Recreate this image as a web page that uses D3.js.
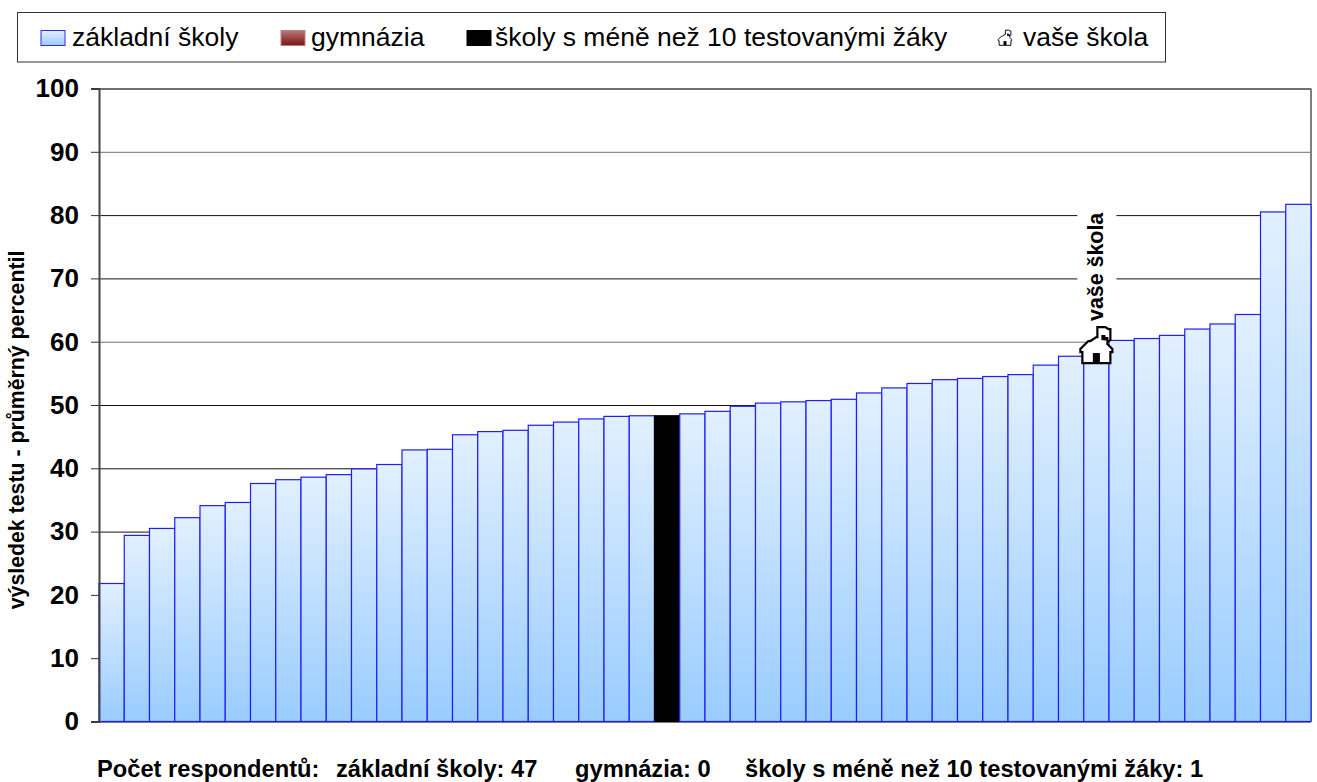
<!DOCTYPE html>
<html>
<head>
<meta charset="utf-8">
<script src="https://d3js.org/d3.v7.min.js"></script>
<style>
  html, body { margin: 0; padding: 0; background: #fff; }
  svg { display: block; }
  text { font-family: "Liberation Sans", Arial, sans-serif; fill: #000; }
  .ticks text { font-size: 26px; font-weight: bold; }
</style>
</head>
<body>
<script>
// one value per school, ascending
var schoolValues = [21.8, 29.4, 30.5, 32.2, 34.1, 34.6, 37.6, 38.2, 38.6, 39, 39.9, 40.6,
  42.9, 43, 45.3, 45.8, 46, 46.8, 47.3, 47.8, 48.2, 48.3, 48.3, 48.6, 49, 49.8, 50.3, 50.5,
  50.7, 50.9, 51.9, 52.7, 53.4, 54, 54.2, 54.5, 54.8, 56.3, 57.7, 59, 60.2, 60.5, 61, 62,
  62.8, 64.3, 80.5, 81.7];
var smallSchool = 22;   // index of the black bar
var yourSchool = 39;    // index of the house marker
var yTicks = [0, 10, 20, 30, 40, 50, 60, 70, 80, 90, 100];
var legendLabels = ["základní školy", "gymnázia", "školy s méně než 10 testovanými žáky", "vaše škola"];
var footerLabels = ["Počet respondentů:", "základní školy: 47", "gymnázia: 0", "školy s méně než 10 testovanými žáky: 1"];

var width = 1317, height = 782;
var left = 99, right = 1311, top_ = 88.5, bottom = 721.5;

var svg = d3.select("body").append("svg")
  .attr("width", width)
  .attr("height", height);

var defs = svg.append("defs");
function gradient(id, c1, c2) {
  var g = defs.append("linearGradient").attr("id", id)
    .attr("x1", 0).attr("y1", 0).attr("x2", 0).attr("y2", 1);
  g.append("stop").attr("offset", "0%").attr("stop-color", c1);
  g.append("stop").attr("offset", "100%").attr("stop-color", c2);
}
gradient("blue", "#e2f0ff", "#99ccff");
gradient("red", "#bb7878", "#7c1214");

var x = d3.scaleBand().domain(d3.range(schoolValues.length)).range([left, right]);
var y = d3.scaleLinear().domain([0, 100]).range([bottom, top_]);

// gridlines
var grid = svg.append("g").attr("transform", "translate(" + left + ",0)")
  .call(d3.axisLeft(y).tickValues(yTicks).tickSize(-(right - left)).tickFormat(""));
grid.select(".domain").remove();
grid.selectAll("line")
  .attr("stroke", function(d) { return d >= 90 || d == 60 ? "#707070" : "#111"; })
  .attr("stroke-width", function(d) { return d == 100 ? 2 : 1; });

// right edge of the plot
svg.append("line")
  .attr("x1", right).attr("x2", right)
  .attr("y1", y(100)).attr("y2", y(0))
  .attr("stroke", "#808080").attr("stroke-width", 2);

// bars
svg.append("g").selectAll("rect")
  .data(schoolValues)
  .enter()
  .append("rect")
  .attr("x", function(d, i) { return x(i); })
  .attr("y", function(d) { return y(d); })
  .attr("width", x.bandwidth())
  .attr("height", function(d) { return y(0) - y(d); })
  .attr("fill", function(d, i) { return i == smallSchool ? "#000" : "url(#blue)"; })
  .attr("stroke", function(d, i) { return i == smallSchool ? "#000" : "#1f1ff5"; })
  .attr("stroke-width", 1.2);

// y axis
var axis = svg.append("g").attr("class", "ticks").attr("transform", "translate(" + left + ",0)")
  .call(d3.axisLeft(y).tickValues(yTicks).tickSize(8).tickPadding(12));
axis.select(".domain").attr("stroke", "#444").attr("stroke-width", 2);
axis.selectAll("line").attr("stroke", "#333");

svg.append("text")
  .attr("transform", "translate(24," + (y(50) + 25) + ") rotate(-90)")
  .attr("text-anchor", "middle")
  .style("font-size", "21.3px")
  .style("font-weight", "bold")
  .text("výsledek testu - průměrný percentil");

// house marker, relative to the bar's centre and top
function housePath(g, s) {
  g.append("path")
    .attr("d", "M0,-11 L1,-11 L1,-21 L9,-21 L12,-19 L14,-19 L14,-8 L11,-6 L11,-4 L16,1 L16,4 L14,4 L14,15 L-14,15 L-14,4 L-16,4 L-16,1 L-8,-7 L-6,-7 Z")
    .attr("transform", "scale(" + s + ")")
    .attr("fill", "#fff").attr("stroke", "#000").attr("stroke-width", 2.2);
  g.append("path")
    .attr("d", "M5,-8 L5,-13 L9,-13 L9,-11 L12,-11 L12,-7 Z")
    .attr("transform", "scale(" + s + ")")
    .attr("fill", "#000");
  g.append("rect")
    .attr("x", -3.5 * s).attr("y", 5 * s).attr("width", 7 * s).attr("height", 10 * s)
    .attr("fill", "#000");
}
var hx = x(yourSchool) + x.bandwidth() / 2;
var marker = svg.append("g").attr("transform", "translate(" + hx + "," + y(schoolValues[yourSchool]) + ")");
housePath(marker, 1);

// label over the house, white behind it hides the gridlines
svg.append("rect")
  .attr("x", hx - 19).attr("y", 209)
  .attr("width", 39).attr("height", 115)
  .attr("fill", "#fff");
svg.append("text")
  .attr("transform", "translate(" + (hx + 6.6) + ",321) rotate(-90)")
  .style("font-size", "21.4px")
  .style("font-weight", "bold")
  .text(legendLabels[3]);

// legend
svg.append("rect")
  .attr("x", 17.5).attr("y", 12.5)
  .attr("width", 1148).attr("height", 49.5)
  .attr("fill", "#fff").attr("stroke", "#333");

var legendText = [72, 311, 495, 1023];
var legendFills = ["url(#blue)", "url(#red)", "#000"];
var legendStrokes = ["#2a2af0", "#c08080", "#000"];
var legendSwatch = [41, 281, 467];

legendFills.forEach(function(f, i) {
  svg.append("rect")
    .attr("x", legendSwatch[i]).attr("y", 30.5)
    .attr("width", 24).attr("height", 15)
    .attr("fill", f).attr("stroke", legendStrokes[i]);
});
legendLabels.forEach(function(t, i) {
  svg.append("text")
    .attr("x", legendText[i]).attr("y", 46)
    .style("font-size", "26.5px")
    .text(t);
});
var smallHouse = svg.append("g").attr("transform", "translate(1005,39)");
housePath(smallHouse, 0.42);

// footer
var footerX = [97, 336, 575, 745];
footerLabels.forEach(function(t, i) {
  svg.append("text")
    .attr("x", footerX[i]).attr("y", 776.5)
    .style("font-size", "23.7px")
    .style("font-weight", "bold")
    .text(t);
});
</script>
</body>
</html>
